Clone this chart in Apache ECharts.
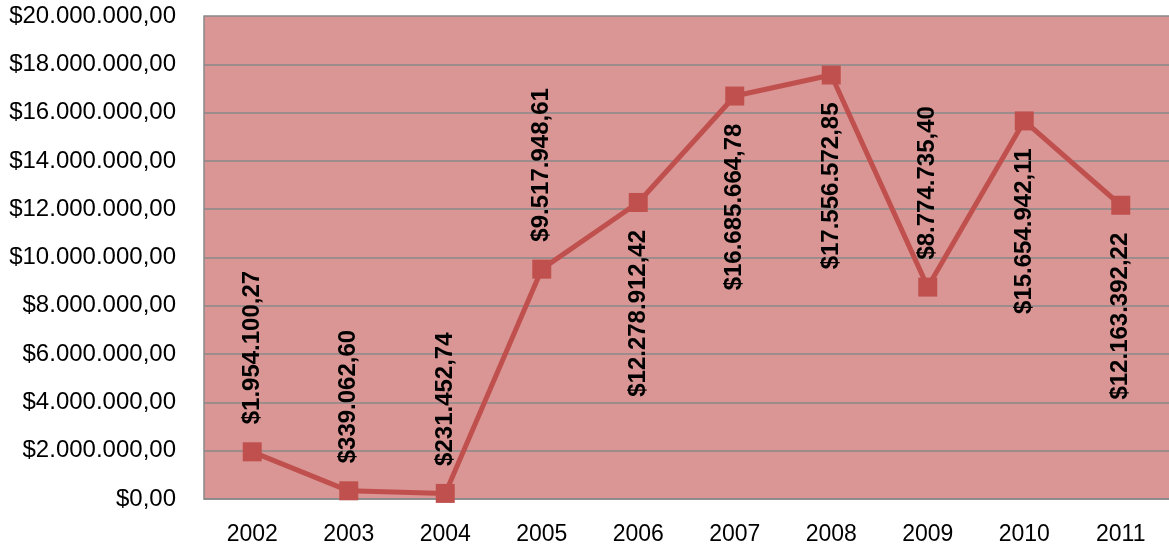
<!DOCTYPE html>
<html>
<head>
<meta charset="utf-8">
<script src="https://cdn.jsdelivr.net/npm/echarts@6/dist/echarts.min.js"></script>
<style>
html,body{margin:0;padding:0;background:#fff;}
#chart{width:1169px;height:549px;}
</style>
</head>
<body>
<div id="chart"></div>
<script>
var years = ['2002','2003','2004','2005','2006','2007','2008','2009','2010','2011'];
var values = [1954100.27, 339062.60, 231452.74, 9517948.61, 12278912.42, 16685664.78, 17556572.85, 8774735.40, 15654942.11, 12163392.22];
var labelAbove = [true, true, true, true, false, false, false, true, false, false];

function fmtMoney(v) {
  var fixed = Math.abs(v).toFixed(2);
  var parts = fixed.split('.');
  var intPart = parts[0].replace(/\B(?=(\d{3})+(?!\d))/g, '.');
  return '$' + intPart + ',' + parts[1];
}

var seriesData = values.map(function (v, i) {
  var above = labelAbove[i];
  return {
    value: v,
    label: {
      position: above ? 'top' : 'bottom',
      align: above ? 'left' : 'right',
      verticalAlign: 'middle'
    }
  };
});

var chart = echarts.init(document.getElementById('chart'), null, {renderer: 'canvas'});
chart.setOption({
  animation: false,
  backgroundColor: '#ffffff',
  grid: {
    left: 204, top: 16, width: 970, bottom: 50,
    show: true, backgroundColor: '#D99694', borderWidth: 0
  },
  xAxis: {
    type: 'category',
    data: years,
    boundaryGap: true,
    axisLine: {show: true, lineStyle: {color: '#888888', width: 1.5}},
    axisTick: {show: false},
    axisLabel: {
      color: '#000', fontFamily: 'Liberation Sans', fontSize: 23, margin: 24
    },
    splitLine: {show: false}
  },
  yAxis: {
    type: 'value',
    min: 0, max: 20000000, interval: 2000000,
    axisLine: {show: true, lineStyle: {color: '#888888', width: 1.5}},
    axisTick: {show: false},
    axisLabel: {
      color: '#000', fontFamily: 'Liberation Sans', fontSize: 24, margin: 28,
      formatter: function (v) { return fmtMoney(v); }
    },
    splitLine: {show: true, lineStyle: {color: '#888888', width: 1.5}}
  },
  series: [{
    type: 'line',
    data: seriesData,
    symbol: 'rect',
    symbolSize: 19,
    lineStyle: {color: '#C0504D', width: 5},
    itemStyle: {color: '#C0504D'},
    label: {
      show: true,
      rotate: 90,
      distance: 18,
      color: '#000',
      fontFamily: 'Liberation Sans',
      fontWeight: 'bold',
      fontSize: 24,
      formatter: function (p) { return fmtMoney(p.value); }
    }
  }]
});
</script>
</body>
</html>
